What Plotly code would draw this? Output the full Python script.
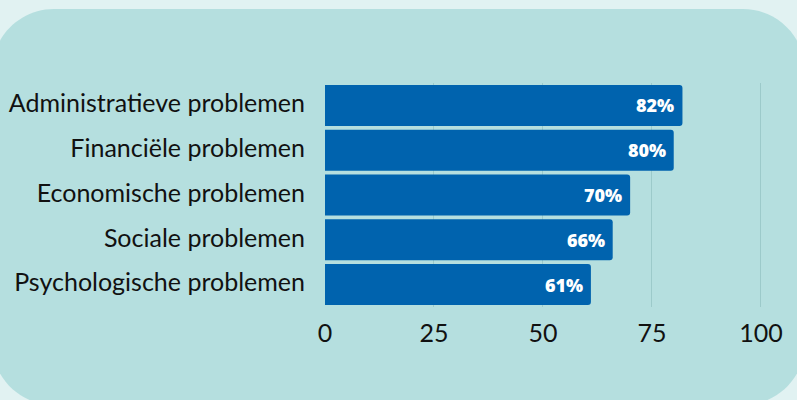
import plotly.graph_objects as go

categories = [
    "Administratieve problemen",
    "Financiële problemen",
    "Economische problemen",
    "Sociale problemen",
    "Psychologische problemen",
]
values = [82, 80, 70, 66, 61]
labels = ["82%", "80%", "70%", "66%", "61%"]
x_ticks = [0, 25, 50, 75, 100]

W, H = 797, 400
ML, MR, MT, MB = 325, 35, 83, 93
PW, PH = W - ML - MR, H - MT - MB

OUTER = "#e1f2f2"
BOX = "#b5dfdf"
BAR = "#0063ae"
GRID = "#9ccaca"


def px2p(x, y):
    return (x - ML) / PW, (H - MB - y) / PH


def rounded_rect(x0, y0, x1, y1, r):
    k = 0.5523 * r
    def P(x, y):
        a, b = px2p(x, y)
        return f"{a:.5f},{b:.5f}"
    d = f"M {P(x0 + r, y0)} L {P(x1 - r, y0)} "
    d += f"C {P(x1 - r + k, y0)} {P(x1, y0 + r - k)} {P(x1, y0 + r)} "
    d += f"L {P(x1, y1 - r)} "
    d += f"C {P(x1, y1 - r + k)} {P(x1 - r + k, y1)} {P(x1 - r, y1)} "
    d += f"L {P(x0 + r, y1)} "
    d += f"C {P(x0 + r - k, y1)} {P(x0, y1 - r + k)} {P(x0, y1 - r)} "
    d += f"L {P(x0, y0 + r)} "
    d += f"C {P(x0, y0 + r - k)} {P(x0 + r - k, y0)} {P(x0 + r, y0)} Z"
    return d


fig = go.Figure(
    go.Bar(
        x=values,
        y=categories,
        orientation="h",
        marker=dict(color=BAR, line=dict(width=0)),
        hoverinfo="skip",
    )
)

for v, c, t in zip(values, categories, labels):
    fig.add_annotation(
        x=v, y=c, xref="x", yref="y", text=t, showarrow=False,
        xanchor="right", xshift=-6, yshift=0,
        font=dict(family="Open Sans", size=18, weight=800, color="white"),
    )

fig.add_shape(
    type="path", xref="paper", yref="paper", layer="below",
    path=rounded_rect(-8, 9, 805, 405, 62),
    fillcolor=BOX, line=dict(width=0),
)

fig.update_layout(
    width=W, height=H, autosize=False,
    margin=dict(l=ML, r=MR, t=MT, b=MB, pad=0, autoexpand=False),
    paper_bgcolor=OUTER,
    plot_bgcolor="rgba(0,0,0,0)",
    bargap=0.085,
    barcornerradius=3,
    showlegend=False,
    font=dict(family="Lato", color="#111111"),
    xaxis=dict(
        range=[0, 100.25], tickvals=x_ticks, ticktext=[str(t) for t in x_ticks],
        showgrid=True, gridcolor=GRID, gridwidth=1, zeroline=False, automargin=False,
        showline=False, ticks="", tickfont=dict(size=25, family="Lato", color="#111111"),
        ticklabelstandoff=9, fixedrange=True,
    ),
    yaxis=dict(
        autorange="reversed", showgrid=False, zeroline=False, showline=False, automargin=False,
        ticks="", tickfont=dict(size=25, family="Lato", color="#111111"),
        ticklabelstandoff=19, ticklabelshift=2, fixedrange=True,
    ),
)

fig.write_html(
    "out.html",
    config={"displayModeBar": False},
    post_script="document.body.style.margin='0';document.body.style.overflow='hidden';",
)
